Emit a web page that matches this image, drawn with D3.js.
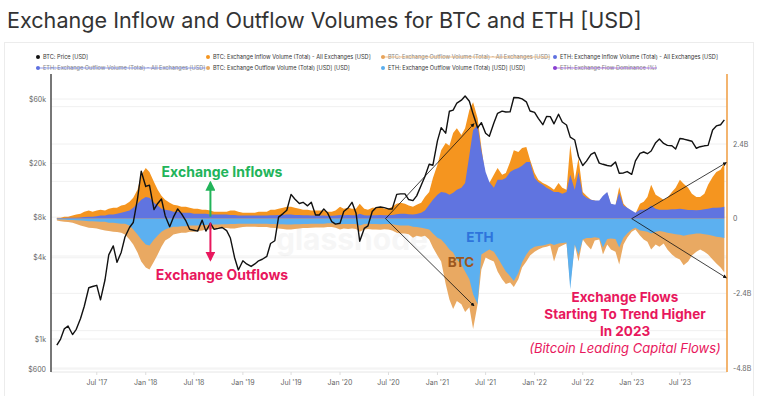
<!DOCTYPE html>
<html>
<head>
<meta charset="utf-8">
<script src="https://cdn.jsdelivr.net/npm/d3@7"></script>
<style>
  body { margin: 0; background: #fff; }
  svg { display: block; font-family: Inter, Roboto, sans-serif; }
</style>
</head>
<body>
<div id="chart"></div>
<script>
// Semi-monthly samples, 1st and 15th of each month, Feb 2017 .. Dec 2023
var startMonth = new Date(2017, 1, 1);

// BTC price [USD]
var btcPrice = [
  900,1000,1190,1250,1080,1180,1420,1750,2400,2450,2500,1950,2750,4200,4900,3700,4400,5700,6700,7300,10900,17500,
  13500,13800,9100,10100,10900,8200,6800,8000,9200,8500,7500,6500,6400,6300,7600,6300,7200,6500,6600,6700,6350,5600,4000,3250,
  3800,3600,3450,3600,3800,3900,4100,5100,5350,8000,8500,9000,11800,10900,10100,10300,9700,10300,8300,8300,9200,8600,7400,7100,
  7200,8800,9400,10300,8600,5300,6600,6900,8800,9400,9500,9400,9200,9200,11800,11900,11900,10800,10600,11500,13800,16000,19700,19400,
  29400,36800,33500,48700,49600,56000,58800,63100,57800,46400,36700,40100,33500,31800,39900,47000,48800,48100,48200,61600,61300,60100,57200,48900,
  47700,43100,38700,44500,44400,39300,46300,40500,38500,31300,29800,22500,19300,20800,23300,24100,20100,19700,19300,19100,20500,16900,17000,17400,
  16600,20900,23700,24300,23600,24700,28500,30300,28100,27200,27000,25600,30600,30300,29700,29200,25900,26600,27000,27200,35400,37900,38700,42000
];

// Exchange volumes, billions USD
var btcInflow = [
  0.03,0.03,0.06,0.06,0.10,0.13,0.16,0.22,0.26,0.22,
  0.26,0.29,0.26,0.32,0.35,0.35,0.42,0.45,0.54,0.67,
  0.93,1.40,1.63,1.50,1.18,0.93,0.74,0.61,0.51,0.45,
  0.42,0.38,0.38,0.35,0.32,0.32,0.29,0.29,0.26,0.22,
  0.22,0.22,0.22,0.26,0.26,0.22,0.19,0.19,0.19,0.19,
  0.22,0.22,0.22,0.29,0.29,0.32,0.35,0.38,0.38,0.35,
  0.32,0.29,0.29,0.26,0.26,0.26,0.26,0.22,0.22,0.26,
  0.38,0.32,0.35,0.32,0.32,0.48,0.32,0.29,0.35,0.35,
  0.38,0.32,0.32,0.38,0.48,0.51,0.48,0.42,0.38,0.45,
  0.51,0.70,0.86,1.31,1.73,2.20,2.43,2.34,2.75,2.91,
  2.69,2.91,3.49,3.74,3.23,2.30,1.31,1.15,1.41,1.63,
  1.41,1.47,1.82,2.20,2.14,2.27,2.30,1.89,1.47,1.25,
  1.15,1.09,1.02,0.93,1.15,0.99,0.93,2.37,1.25,1.95,
  0.86,0.74,0.61,0.58,0.51,0.67,0.83,0.45,0.42,1.02,
  0.48,0.35,0.22,0.16,0.48,0.54,0.70,1.09,0.77,0.70,
  0.61,0.67,0.86,0.99,1.25,1.12,0.99,0.80,0.70,0.70,
  0.80,1.09,1.34,1.50,1.57,1.79
];
var ethInflow = [
  0.02,0.02,0.02,0.03,0.03,0.03,0.04,0.05,0.06,0.06,
  0.08,0.10,0.10,0.13,0.13,0.16,0.19,0.22,0.26,0.35,
  0.48,0.61,0.70,0.67,0.51,0.42,0.32,0.29,0.26,0.22,
  0.22,0.19,0.19,0.19,0.16,0.16,0.16,0.16,0.13,0.13,
  0.13,0.13,0.13,0.12,0.12,0.10,0.10,0.10,0.10,0.10,
  0.10,0.10,0.10,0.11,0.11,0.12,0.12,0.13,0.13,0.12,
  0.12,0.11,0.11,0.10,0.10,0.10,0.10,0.09,0.09,0.10,
  0.12,0.11,0.12,0.11,0.11,0.16,0.11,0.10,0.11,0.11,
  0.12,0.11,0.11,0.12,0.14,0.16,0.16,0.14,0.13,0.15,
  0.19,0.26,0.45,0.61,0.77,0.86,0.83,0.77,0.83,0.93,
  0.99,1.15,2.05,2.85,3.00,2.20,1.50,1.18,0.99,1.25,
  1.25,1.31,1.50,1.57,1.63,1.70,1.82,1.82,1.31,1.18,
  1.09,0.99,0.93,0.86,0.86,0.80,0.86,1.41,0.93,1.50,
  0.77,0.67,0.61,0.58,0.58,0.74,0.86,0.48,0.45,0.83,
  0.42,0.35,0.26,0.19,0.29,0.29,0.32,0.42,0.32,0.29,
  0.29,0.29,0.30,0.30,0.32,0.30,0.28,0.28,0.27,0.28,
  0.30,0.32,0.35,0.35,0.36,0.38
];
var btcOutflow = [
  -0.06,-0.08,-0.10,-0.11,-0.13,-0.17,-0.22,-0.25,-0.29,-0.30,
  -0.32,-0.35,-0.38,-0.40,-0.42,-0.43,-0.45,-0.51,-0.67,-0.83,
  -1.09,-1.38,-1.57,-1.63,-1.38,-1.15,-0.90,-0.70,-0.61,-0.51,
  -0.48,-0.45,-0.45,-0.42,-0.42,-0.40,-0.38,-0.35,-0.35,-0.32,
  -0.32,-0.30,-0.30,-0.32,-0.32,-0.29,-0.27,-0.26,-0.26,-0.26,
  -0.27,-0.27,-0.27,-0.29,-0.30,-0.32,-0.33,-0.35,-0.35,-0.33,
  -0.32,-0.30,-0.30,-0.29,-0.28,-0.28,-0.28,-0.27,-0.27,-0.29,
  -0.35,-0.32,-0.33,-0.32,-0.33,-0.42,-0.35,-0.33,-0.35,-0.35,
  -0.36,-0.34,-0.35,-0.38,-0.45,-0.48,-0.48,-0.50,-0.61,-0.55,
  -0.58,-0.55,-0.67,-0.93,-1.18,-1.38,-2.10,-2.60,-2.90,-2.65,
  -2.75,-3.00,-2.85,-3.55,-2.75,-1.63,-1.25,-1.31,-1.38,-1.70,
  -1.95,-2.10,-2.05,-2.20,-1.95,-1.57,-1.38,-1.18,-1.06,-0.99,
  -0.93,-0.90,-0.86,-1.38,-0.93,-0.86,-0.80,-2.10,-0.83,-1.38,
  -0.67,-0.83,-0.99,-0.70,-0.67,-1.15,-0.83,-0.99,-1.06,-1.47,
  -0.83,-0.61,-0.42,-0.35,-0.54,-0.67,-0.74,-0.99,-0.83,-0.90,
  -0.80,-0.99,-1.15,-1.25,-1.31,-1.50,-1.38,-1.18,-1.06,-0.99,
  -1.06,-1.15,-1.31,-1.44,-1.57,-1.73
];
var ethOutflow = [
  -0.02,-0.03,-0.03,-0.04,-0.04,-0.05,-0.06,-0.07,-0.08,-0.08,
  -0.09,-0.10,-0.10,-0.13,-0.13,-0.15,-0.16,-0.16,-0.22,-0.35,
  -0.51,-0.67,-0.83,-0.86,-0.67,-0.54,-0.42,-0.35,-0.29,-0.26,
  -0.26,-0.24,-0.24,-0.22,-0.22,-0.22,-0.20,-0.20,-0.19,-0.19,
  -0.19,-0.18,-0.18,-0.17,-0.17,-0.16,-0.16,-0.16,-0.16,-0.16,
  -0.16,-0.16,-0.16,-0.17,-0.17,-0.18,-0.18,-0.19,-0.19,-0.18,
  -0.18,-0.17,-0.17,-0.16,-0.16,-0.16,-0.16,-0.15,-0.15,-0.16,
  -0.18,-0.17,-0.17,-0.17,-0.17,-0.22,-0.17,-0.16,-0.17,-0.17,
  -0.18,-0.17,-0.17,-0.18,-0.20,-0.22,-0.22,-0.22,-0.26,-0.27,
  -0.29,-0.32,-0.35,-0.48,-0.61,-0.67,-0.83,-0.99,-1.09,-1.31,
  -1.47,-1.70,-1.95,-2.43,-2.75,-1.15,-1.06,-0.99,-1.06,-1.25,
  -1.50,-1.70,-1.85,-2.00,-1.75,-1.40,-1.15,-0.99,-0.90,-0.88,
  -0.86,-0.83,-0.80,-0.85,-0.80,-0.78,-0.77,-2.27,-0.83,-1.15,
  -0.67,-0.62,-0.62,-0.60,-0.62,-0.93,-0.65,-0.64,-0.65,-0.93,
  -0.61,-0.48,-0.35,-0.29,-0.38,-0.40,-0.42,-0.48,-0.42,-0.40,
  -0.42,-0.45,-0.48,-0.50,-0.52,-0.55,-0.52,-0.50,-0.48,-0.48,
  -0.50,-0.52,-0.55,-0.58,-0.60,-0.62
];

// axis ticks
var priceTicks = [600, 1000, 4000, 8000, 20000, 60000];
var priceTickLabels = ["$600", "$1k", "$4k", "$8k", "$20k", "$60k"];
var volumeTicks = [2.4, 0, -2.4, -4.8];
var volumeTickLabels = ["2.4B", "0", "-2.4B", "-4.8B"];

// legend
var legendLabels = [
  "BTC: Price [USD]",
  "BTC: Exchange Inflow Volume (Total) - All Exchanges [USD]",
  "BTC: Exchange Outflow Volume (Total) - All Exchanges [USD]",
  "ETH: Exchange Inflow Volume (Total) - All Exchanges [USD]",
  "ETH: Exchange Outflow Volume (Total) - All Exchanges [USD]",
  "BTC: Exchange Outflow Volume (Total) [USD] [USD]",
  "ETH: Exchange Outflow Volume (Total) [USD] [USD]",
  "ETH: Exchange Flow Dominance (%)"
];
var legendColors = ["#111", "#f5951f", "#e8a35a", "#5f71e0", "#5f71e0", "#e8a962", "#5aaeee", "#8a3fd1"];
var legendHidden = [false, false, true, false, true, false, false, true];

var colBtcIn = "#f5951f", colEthIn = "#6074e0", colBtcOut = "#e9a962", colEthOut = "#5cb0f0";

var svgWidth = 758, svgHeight = 396;
var plot = { left: 51, right: 727, top: 74, bottom: 372 };

var dates = btcPrice.map((d, i) => d3.timeDay.offset(d3.timeMonth.offset(startMonth, Math.floor(i / 2)), (i % 2) * 14));

var svg = d3.select("#chart").append("svg")
    .attr("width", svgWidth)
    .attr("height", svgHeight);

// card border
svg.append("rect")
    .attr("x", 4.5).attr("y", 42.5)
    .attr("width", 749).attr("height", 360)
    .attr("fill", "none").attr("stroke", "#ececec");

// Title
svg.append("text")
    .attr("x", 7).attr("y", 28)
    .style("font-size", "21.6px")
    .attr("fill", "#333")
    .text("Exchange Inflow and Outflow Volumes for BTC and ETH [USD]");

// scales
var xScale = d3.scaleTime()
    .domain([new Date(2017, 0, 10), new Date(2023, 11, 25)])
    .range([plot.left, plot.right]);
var yPrice = d3.scaleLog()
    .domain([600, 60000])
    .range([369, 99]);
var yVol = d3.scaleLinear()
    .domain([-4.8, 2.4])
    .range([368, 144]);

// grid
var grid = svg.append("g");
var gridVols = [3.6, 2.4, 1.2, -1.2, -2.4, -3.6, -4.8];
grid.selectAll("line.gv").data(gridVols).enter().append("line")
    .attr("x1", plot.left).attr("x2", plot.right)
    .attr("y1", d => yVol(d)).attr("y2", d => yVol(d))
    .attr("stroke", "#f0f0f0");
grid.selectAll("line.gp").data(priceTicks).enter().append("line")
    .attr("x1", plot.left).attr("x2", plot.right)
    .attr("y1", d => yPrice(d)).attr("y2", d => yPrice(d))
    .attr("stroke", "#f0f0f0");

// watermark
svg.append("text")
    .attr("x", 276).attr("y", 250)
    .style("font-size", "30px").style("font-weight", 700)
    .attr("fill", "#d4d4d4").attr("opacity", 0.2)
    .text("glassnode");

// areas
var area = d3.area()
    .x((d, i) => xScale(dates[i]))
    .y0(yVol(0))
    .y1(d => yVol(d));

[[btcInflow, colBtcIn], [ethInflow, colEthIn], [btcOutflow, colBtcOut], [ethOutflow, colEthOut]].forEach(s => {
    svg.append("path")
        .datum(s[0])
        .attr("d", area)
        .attr("fill", s[1]);
});

// price line
var line = d3.line()
    .x((d, i) => xScale(dates[i]))
    .y(d => yPrice(d));
svg.append("path")
    .datum(btcPrice)
    .attr("d", line)
    .attr("fill", "none")
    .attr("stroke", "#111")
    .attr("stroke-width", 1.4)
    .attr("stroke-linejoin", "round");

// axes lines
svg.append("line")
    .attr("x1", plot.left).attr("x2", plot.right)
    .attr("y1", plot.bottom).attr("y2", plot.bottom)
    .attr("stroke", "#e6e6e6");
svg.append("line")
    .attr("x1", plot.left).attr("x2", plot.left)
    .attr("y1", plot.top).attr("y2", plot.bottom)
    .attr("stroke", "#555").attr("stroke-width", 1.6);
svg.append("line")
    .attr("x1", plot.right).attr("x2", plot.right)
    .attr("y1", plot.top).attr("y2", plot.bottom)
    .attr("stroke", "#f0a24c").attr("stroke-width", 1.6);

// left axis labels
svg.append("g").selectAll("text").data(priceTicks).enter().append("text")
    .attr("x", plot.left - 5)
    .attr("y", d => yPrice(d) + 2.5)
    .attr("text-anchor", "end")
    .style("font-size", "7px")
    .attr("fill", "#666")
    .text((d, i) => priceTickLabels[i]);

// right axis labels
svg.append("g").selectAll("text").data(volumeTicks).enter().append("text")
    .attr("x", plot.right + 6)
    .attr("y", d => yVol(d) + 2.5)
    .style("font-size", "7px")
    .attr("fill", "#666")
    .text((d, i) => volumeTickLabels[i]);

// x axis
var xTicks = d3.timeMonth.every(6).range(new Date(2017, 6, 1), new Date(2023, 7, 1));
var fmt = d3.timeFormat("%b '%y");
var xg = svg.append("g");
xg.selectAll("line").data(xTicks).enter().append("line")
    .attr("x1", d => xScale(d)).attr("x2", d => xScale(d))
    .attr("y1", plot.bottom).attr("y2", plot.bottom + 3)
    .attr("stroke", "#ddd");
xg.selectAll("text").data(xTicks).enter().append("text")
    .attr("x", d => xScale(d))
    .attr("y", plot.bottom + 13)
    .attr("text-anchor", "middle")
    .style("font-size", "7px")
    .attr("fill", "#666")
    .text(d => fmt(d));

// legend
var legendX = [38, 208, 383, 555];
var legend = svg.append("g");
legendLabels.forEach((lab, i) => {
    var gx = legendX[i % 4], gy = 57 + Math.floor(i / 4) * 11;
    var item = legend.append("g").attr("transform", `translate(${gx},${gy})`);
    var t = item.append("text")
        .attr("x", 5).attr("y", 2)
        .style("font-size", "5.6px")
        .attr("fill", legendHidden[i] ? "#888" : "#333")
        .text(lab);
    if (legendHidden[i]) {
        var w = t.node().getComputedTextLength();
        item.append("line")
            .attr("x1", -2).attr("x2", w + 5)
            .attr("y1", 0).attr("y2", 0)
            .attr("stroke", legendColors[i]).attr("stroke-width", 0.7);
    }
    item.append("circle").attr("r", 2).attr("fill", legendColors[i]);
});

// annotations
svg.append("defs").selectAll("marker")
    .data([["arrBlack", "#111"], ["arrGreen", "#22b45a"], ["arrPink", "#e8175d"]])
    .enter().append("marker")
    .attr("id", d => d[0])
    .attr("viewBox", "0 0 10 10").attr("refX", 8).attr("refY", 5)
    .attr("markerWidth", 5).attr("markerHeight", 5)
    .attr("orient", "auto-start-reverse")
    .append("path").attr("d", "M0,0L10,5L0,10z").attr("fill", d => d[1]);

// trend arrows: [start date, start value, end date, end value]
var trendArrows = [
    [new Date(2020, 5, 20), 0, new Date(2021, 4, 18), 3.05],
    [new Date(2020, 5, 20), 0, new Date(2021, 4, 18), -2.8],
    [new Date(2023, 0, 1), 0, new Date(2023, 11, 22), 1.8],
    [new Date(2023, 0, 1), 0, new Date(2023, 11, 22), -1.9]
];
svg.append("g").selectAll("line").data(trendArrows).enter().append("line")
    .attr("x1", d => xScale(d[0])).attr("y1", d => yVol(d[1]))
    .attr("x2", d => xScale(d[2])).attr("y2", d => yVol(d[3]))
    .attr("stroke", "#111").attr("stroke-width", 0.8)
    .attr("marker-end", "url(#arrBlack)");

var arrowDate = new Date(2018, 8, 1);
svg.append("line")
    .attr("x1", xScale(arrowDate)).attr("x2", xScale(arrowDate))
    .attr("y1", yVol(0) - 2).attr("y2", yVol(0) - 36)
    .attr("stroke", "#22b45a").attr("stroke-width", 2)
    .attr("marker-end", "url(#arrGreen)");
svg.append("line")
    .attr("x1", xScale(arrowDate)).attr("x2", xScale(arrowDate))
    .attr("y1", yVol(0) + 4).attr("y2", yVol(0) + 41)
    .attr("stroke", "#e8175d").attr("stroke-width", 2)
    .attr("marker-end", "url(#arrPink)");

function label(x, y, txt, color, size, opts) {
    opts = opts || {};
    return svg.append("text")
        .attr("x", x).attr("y", y)
        .attr("text-anchor", opts.anchor || "middle")
        .style("font-size", size + "px")
        .style("font-weight", opts.weight || 700)
        .style("font-style", opts.italic ? "italic" : "normal")
        .attr("fill", color)
        .text(txt);
}
label(222, 177, "Exchange Inflows", "#22b45a", 14);
label(222, 280, "Exchange Outflows", "#e8175d", 14);
label(480, 242, "ETH", "#2e74dc", 13.5);
label(461, 267, "BTC", "#9c571d", 13.5);
label(625, 302, "Exchange Flows", "#e8175d", 13.5);
label(625, 319, "Starting To Trend Higher", "#e8175d", 13.5);
label(625, 336, "In 2023", "#e8175d", 13.5);
label(625, 353, "(Bitcoin Leading Capital Flows)", "#e8175d", 13, { weight: 400, italic: true });
</script>
</body>
</html>
